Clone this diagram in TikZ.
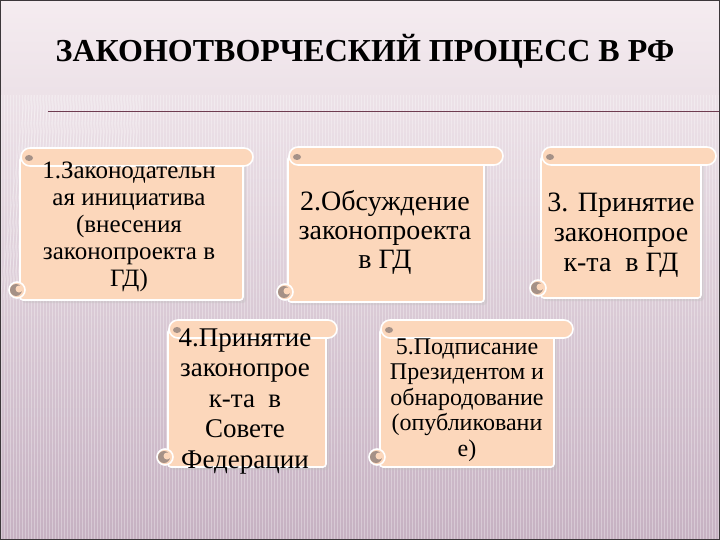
\documentclass[tikz,border=0pt]{standalone}
\usepackage{fontspec}
\setmainfont{Liberation Serif}
\definecolor{peach}{RGB}{252,215,187}
\definecolor{curlc}{RGB}{165,145,135}
\definecolor{bgtop}{RGB}{245,236,240}
\definecolor{bgbot}{RGB}{198,177,194}
\definecolor{rulec}{RGB}{110,60,80}
\definecolor{framec}{RGB}{60,55,58}
\tikzset{
  scrollline/.style={draw=white, line width=1.6pt, fill=peach},
  scrolltext/.style={align=center, inner sep=0pt, text=black},
}
\newcommand{\myscroll}[5]{% L, R, RR, T, B
  \fill[black!25, opacity=0.35, rounded corners=3] (#1+2,#4+11) rectangle (#2+3,#5+3);
  \draw[scrollline, rounded corners=3] (#1,#4+9) rectangle (#2,#5);
  \draw[scrollline, rounded corners=9] (#1+1,#4) rectangle (#3,#4+18);
  \fill[curlc] (#1+9,#4+10) ellipse (4 and 3);
  \draw[scrollline] (#1-3,#5-10) circle (8);
  \fill[curlc] (#1-4,#5-10) circle (6);
  \fill[peach] (#1-1,#5-11) circle (3.5);
}
\begin{document}
\begin{tikzpicture}[x=1pt,y=-1pt]
\useasboundingbox (0,0) rectangle (720,540);
% background
\shade[top color=bgtop, bottom color=bgbot] (0,0) rectangle (720,540);
\foreach \i in {0,...,239} {
  \draw[white, opacity=0.3, line width=0.9pt] (3*\i+1,95) -- (3*\i+1,540);
}
\foreach \i in {0,...,39} {
  \draw[white, opacity=0.25, line width=0.9pt] (3*\i,300) -- (3*\i+25,95);
}
% title
\node[font=\bfseries\fontsize{32}{36}\selectfont, inner sep=0pt] (title) at (365,51) {ЗАКОНОТВОРЧЕСКИЙ ПРОЦЕСС В РФ};
\draw[rulec, line width=1pt] (48,112) -- (720,112);
% scrolls
\myscroll{20}{243}{253}{148}{300}
\myscroll{288}{484}{503}{147}{302}
\myscroll{541}{701}{716}{147}{298}
\myscroll{168}{326}{337}{320}{467}
\myscroll{380}{554}{573}{320}{467}
% texts
\node[scrolltext, font=\fontsize{25}{27}\selectfont] (t1) at (129,227)
  {1.Законодательн\\ая инициатива\\(внесения\\законопроекта в\\ГД)};
\node[scrolltext, font=\fontsize{28}{29}\selectfont] (t2) at (385,232)
  {2.Обсуждение\\законопроекта\\в ГД};
\node[scrolltext, font=\fontsize{28}{30}\selectfont] (t3) at (621,235)
  {3. Принятие\\законопрое\\к-та \ в ГД};
\node[scrolltext, font=\fontsize{27}{30.5}\selectfont] (t4) at (245,401)
  {4.Принятие\\законопрое\\к-та \ в\\Совете\\Федерации};
\node[scrolltext, font=\fontsize{24}{25.5}\selectfont] (t5) at (467,400)
  {5.Подписание\\Президентом и\\обнародование\\(опубликовани\\е)};
% frame
\draw[framec, line width=2.5pt] (0,0) rectangle (720,540);
\end{tikzpicture}
\end{document}
